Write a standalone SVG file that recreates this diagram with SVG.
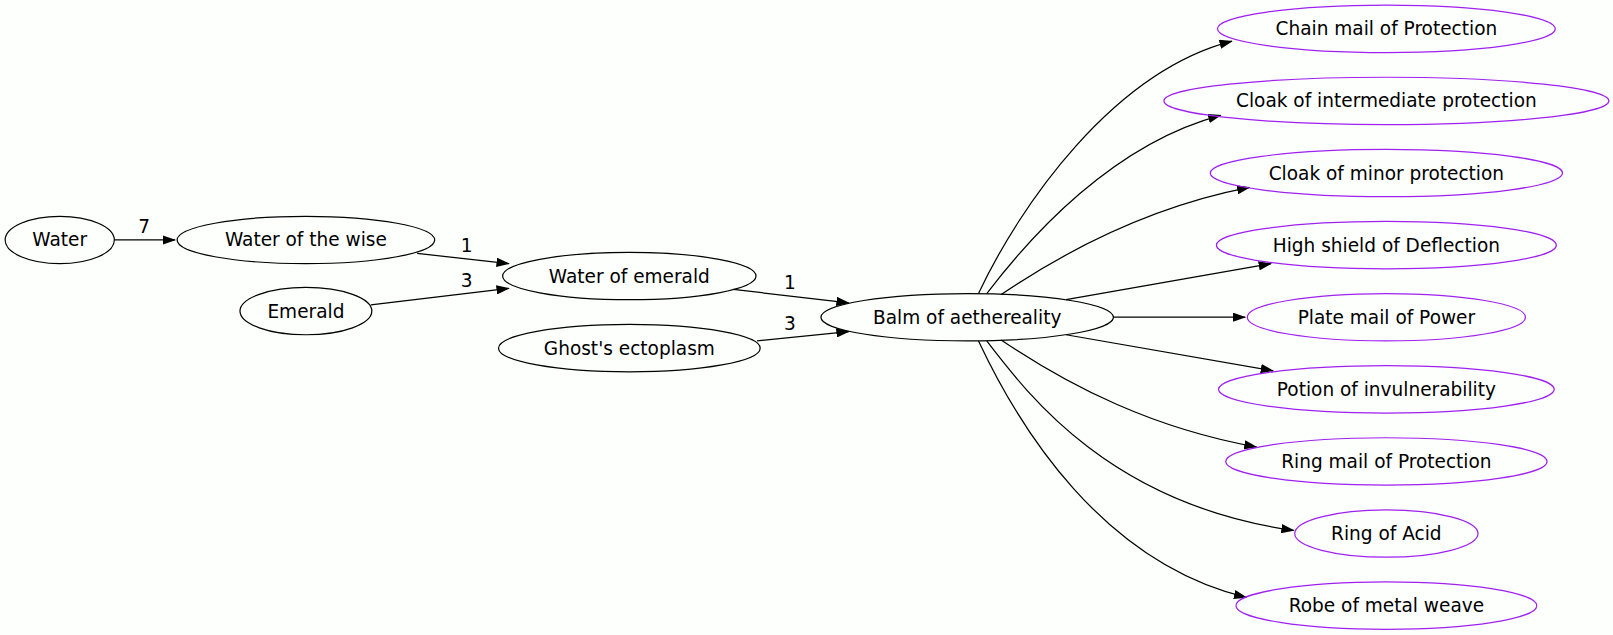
<svg xmlns="http://www.w3.org/2000/svg" width="1613" height="635" viewBox="0 0 1613 635">
<style>
text{font-family:"DejaVu Sans",sans-serif;font-size:18px;text-anchor:middle;dominant-baseline:central;fill:#000}
.n ellipse{fill:none;stroke:#000;stroke-width:1.2}
.p ellipse{fill:none;stroke:#a020f0;stroke-width:1.2}
#edges path{fill:none;stroke:#000;stroke-width:1.2;marker-end:url(#a)}
</style>
<defs><marker id="a" markerWidth="13" markerHeight="9" refX="12" refY="4.5" orient="auto" markerUnits="userSpaceOnUse"><path d="M0,0L13,4.5L0,9z" fill="#000"/></marker></defs>
<rect width="1613" height="635" fill="#fdfffd"/>
<g id="diagram" transform="scale(1.03)">
<g id="edges">
<path d="M111,233H170"/><text x="140" y="220">7</text>
<path d="M405,246L494,256"/><text x="453" y="238">1</text>
<path d="M360,296L494,280"/><text x="453" y="272">3</text>
<path d="M712,281L824,294"/><text x="767" y="274">1</text>
<path d="M735,331L824,322"/><text x="767" y="314">3</text>
<path d="M950,285C990,200 1080,70 1196,40"/>
<path d="M958,285C1000,230 1080,140 1185,112"/>
<path d="M972,286C1040,240 1120,200 1213,182"/>
<path d="M1035,291L1234,256"/>
<path d="M1081,308H1209"/>
<path d="M1035,325L1236,360"/>
<path d="M972,330C1040,376 1120,416 1220,434"/>
<path d="M958,331C1000,386 1080,490 1256,515"/>
<path d="M950,331C990,416 1070,546 1210,580"/>
</g>
<g id="water" class="n"><ellipse cx="58" cy="233" rx="53" ry="23"/><text x="58" y="233">Water</text></g>
<g id="wise" class="n"><ellipse cx="297" cy="233" rx="125" ry="23"/><text x="297" y="233">Water of the wise</text></g>
<g id="emerald" class="n"><ellipse cx="297" cy="302" rx="64" ry="23"/><text x="297" y="302">Emerald</text></g>
<g id="woe" class="n"><ellipse cx="611" cy="268" rx="123" ry="23"/><text x="611" y="268">Water of emerald</text></g>
<g id="ghost" class="n"><ellipse cx="611" cy="338" rx="127" ry="23"/><text x="611" y="338">Ghost's ectoplasm</text></g>
<g id="balm" class="n"><ellipse cx="939" cy="308" rx="142" ry="23"/><text x="939" y="308">Balm of aethereality</text></g>
<g id="chain" class="p"><ellipse cx="1346" cy="28" rx="164" ry="23"/><text x="1346" y="28">Chain mail of Protection</text></g>
<g id="cloaki" class="p"><ellipse cx="1346" cy="98" rx="216" ry="23"/><text x="1346" y="98">Cloak of intermediate protection</text></g>
<g id="cloakm" class="p"><ellipse cx="1346" cy="168" rx="171" ry="23"/><text x="1346" y="168">Cloak of minor protection</text></g>
<g id="shield" class="p"><ellipse cx="1346" cy="238" rx="165" ry="23"/><text x="1346" y="238">High shield of Deflection</text></g>
<g id="plate" class="p"><ellipse cx="1346" cy="308" rx="135" ry="23"/><text x="1346" y="308">Plate mail of Power</text></g>
<g id="potion" class="p"><ellipse cx="1346" cy="378" rx="163" ry="23"/><text x="1346" y="378">Potion of invulnerability</text></g>
<g id="ringmail" class="p"><ellipse cx="1346" cy="448" rx="156" ry="23"/><text x="1346" y="448">Ring mail of Protection</text></g>
<g id="acid" class="p"><ellipse cx="1346" cy="518" rx="89" ry="23"/><text x="1346" y="518">Ring of Acid</text></g>
<g id="robe" class="p"><ellipse cx="1346" cy="588" rx="146" ry="23"/><text x="1346" y="588">Robe of metal weave</text></g>
</g>
</svg>
